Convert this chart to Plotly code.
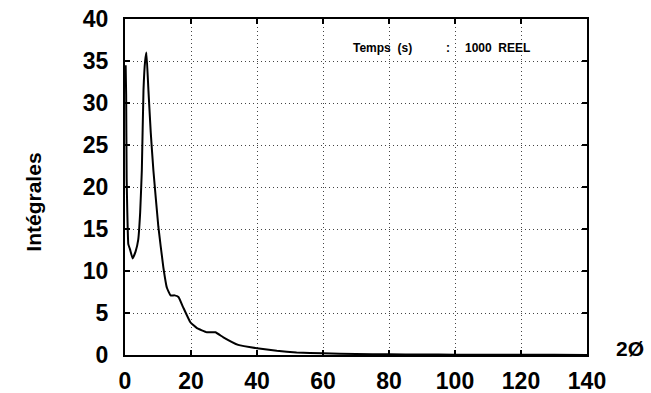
import plotly.graph_objects as go

two_theta = [0.2, 0.35, 0.5, 0.7, 1.0, 1.5, 2.3, 3.2, 4.0, 4.6, 5.1, 5.6, 6.1, 6.5,
             7.1, 7.8, 8.6, 10.1, 11.6, 12.7, 13.8, 15.0, 16.2, 17.6, 19.8, 21.8,
             24.8, 27.4, 29.8, 34.3, 40.0, 46.0, 52.0, 60.0, 70.0, 80.0, 90.0,
             100.0, 110.0, 120.0, 130.0, 140.0]
integrales = [34.5, 31.0, 21.0, 17.0, 13.2, 12.6, 11.5, 12.3, 13.7, 17.0, 22.0, 31.5,
              35.0, 36.0, 31.5, 26.5, 22.0, 15.3, 10.5, 8.0, 7.1, 7.1, 6.9, 5.7, 3.9,
              3.2, 2.7, 2.7, 2.1, 1.2, 0.8, 0.5, 0.3, 0.2, 0.12, 0.08, 0.05, 0.04,
              0.03, 0.02, 0.02, 0.01]

x_ticks = [0, 20, 40, 60, 80, 100, 120, 140]
y_ticks = [0, 5, 10, 15, 20, 25, 30, 35, 40]

font_family = "Liberation Sans, Arial, sans-serif"

fig = go.Figure()
fig.add_trace(go.Scatter(x=two_theta, y=integrales, mode="lines",
                         line=dict(color="black", width=2, shape="spline", smoothing=0.3),
                         showlegend=False))

axis_common = dict(
    showline=True, linecolor="black", linewidth=2, mirror="ticks",
    ticks="inside", ticklen=5, tickcolor="black", tickwidth=1.5,
    showgrid=True, gridcolor="#444444", gridwidth=1, griddash="1px,3px",
    zeroline=False, automargin=False,
    tickfont=dict(family=font_family, size=23, color="black", weight="bold"),
)

fig.update_xaxes(range=[0, 140], tickvals=x_ticks, ticktext=[str(v) for v in x_ticks],
                 ticklabelstandoff=4, **axis_common)
fig.update_yaxes(range=[0, 40], tickvals=y_ticks, ticktext=[str(v) for v in y_ticks],
                 ticklabelstandoff=10, **axis_common)

ann_font = dict(family=font_family, size=12, color="black", weight="bold")
common = dict(xref="paper", yref="paper", showarrow=False, xanchor="center", yanchor="middle")
fig.add_annotation(text="Temps&nbsp;&nbsp;(s)", x=0.558, y=0.914, font=ann_font, **common)
fig.add_annotation(text=":", x=0.700, y=0.914, font=ann_font, **common)
fig.add_annotation(text="1000&nbsp;&nbsp;REEL", x=0.807, y=0.914, font=ann_font, **common)
fig.add_annotation(text="Intégrales", x=-0.198, y=0.455, textangle=-90,
                   font=dict(family=font_family, size=21, color="black", weight="bold"),
                   **common)
fig.add_annotation(text="2Ø", x=1.092, y=0.018,
                   font=dict(family=font_family, size=21, color="black", weight="bold"),
                   **common)

fig.update_layout(width=651, height=393, margin=dict(l=125, r=64, t=19, b=38),
                  plot_bgcolor="white", paper_bgcolor="white")

fig.write_html("out.html")
